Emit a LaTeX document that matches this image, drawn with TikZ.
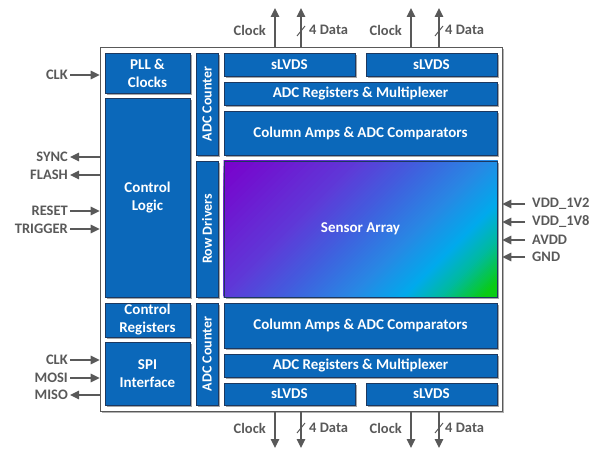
\documentclass[tikz,border=0pt]{standalone}
\usepackage{fontspec}
\setmainfont{Carlito}
\usetikzlibrary{shadows,arrows.meta}

\definecolor{blkblue}{RGB}{11,104,186}
\definecolor{blkedge}{RGB}{28,56,96}
\definecolor{pingrey}{RGB}{89,89,89}
% sensor array colours, purple corner to green corner
\definecolor{sa0}{RGB}{122,0,204}
\definecolor{sa1}{RGB}{94,58,216}
\definecolor{sa2}{RGB}{64,96,222}
\definecolor{sa3}{RGB}{40,136,228}
\definecolor{sa4}{RGB}{0,170,236}
\definecolor{sa5}{RGB}{0,186,160}
\definecolor{sa6}{RGB}{10,204,20}

\def\blkfont{\bfseries\fontsize{15}{18}\selectfont}
\def\pinfont{\bfseries\fontsize{14.5}{17}\selectfont}
% centre of the sensor array
\def\cx{360.5}
\def\cy{229}

\tikzset{
    blkbox/.style={draw=blkedge, fill=blkblue, line width=.8pt, text=white,
        font=\blkfont, align=center, inner sep=0pt,
        drop shadow={shadow xshift=1.6pt, shadow yshift=-1.6pt, fill=black, opacity=.35}},
    stripbox/.style={blkbox, rotate=90, minimum height=22pt,
        font=\bfseries\fontsize{14}{17}\selectfont},
    pinlbl/.style={text=pingrey, font=\pinfont, inner sep=2pt},
    sig/.style={draw=pingrey, line width=1.6pt, -{Triangle[length=9pt,width=8.5pt]}},
    buslash/.style={draw=pingrey, line width=1pt},
}

\begin{document}
\begin{tikzpicture}[x=1pt, y=-1pt]
    \useasboundingbox (0,0) rectangle (610,449);

    % die outline
    \node[draw=black!65, fill=white, line width=.8pt, inner sep=0pt,
        minimum width=402pt, minimum height=364pt,
        drop shadow={shadow xshift=2pt, shadow yshift=-2pt, fill=black, opacity=.3}]
        (chip) at (301,229) {};

    % left column
    \node[blkbox, minimum width=85pt, minimum height=40pt] (pll) at (147.5,73) {PLL \&\\Clocks};
    \node[blkbox, minimum width=85pt, minimum height=199pt] (ctrl) at (147.5,197.5) {Control\\Logic};
    \node[blkbox, minimum width=85pt, minimum height=34pt] (regs) at (147.5,320) {Control\\Registers};
    \node[blkbox, minimum width=85pt, minimum height=63pt] (spi) at (147.5,373.5) {SPI\\Interface};

    % vertical strips
    \node[stripbox, minimum width=102pt] (cntA) at (207,104) {ADC Counter};
    \node[stripbox, minimum width=136pt] (rows) at (207,229) {Row Drivers};
    \node[stripbox, minimum width=102pt] (cntB) at (207,354) {ADC Counter};

    % readout chain, top half
    \node[blkbox, minimum width=131pt, minimum height=23pt] (lvdsA) at (289.5,64.5) {sLVDS};
    \node[blkbox, minimum width=131pt, minimum height=23pt] (lvdsB) at (431.5,64.5) {sLVDS};
    \node[blkbox, minimum width=273pt, minimum height=23pt] (muxA) at (360.5,93.5) {ADC Registers \& Multiplexer};
    \node[blkbox, minimum width=273pt, minimum height=44pt] (colA) at (360.5,133) {Column Amps \& ADC Comparators};

    % sensor array: box, diagonal colour ramp band by band, then outline and title
    \node[blkbox, minimum width=273pt, minimum height=136pt] (arraybox) at (\cx,\cy) {};
    \begin{scope}
        \clip (arraybox.north west) rectangle (arraybox.south east);
        \foreach \ca/\cb/\ta/\tb in {sa0/sa1/-146/-50, sa1/sa2/-50/-5, sa2/sa3/-5/40,
                sa3/sa4/40/78, sa4/sa5/78/104, sa5/sa6/104/134}
            \foreach \k in {0,...,19}{
                \pgfmathsetmacro\tk{\ta+(\tb-\ta)*\k/20}
                \pgfmathsetmacro\te{\tb+.6}
                \pgfmathtruncatemacro\pct{5*\k}
                \fill[\cb!\pct!\ca]
                    ({\cx+.7071*(\tk)-113},{\cy+.7071*(\tk)+113}) --
                    ({\cx+.7071*(\te)-113},{\cy+.7071*(\te)+113}) --
                    ({\cx+.7071*(\te)+113},{\cy+.7071*(\te)-113}) --
                    ({\cx+.7071*(\tk)+113},{\cy+.7071*(\tk)-113}) -- cycle;
            }
        % last band runs out to the green corner
        \fill[sa6] ({\cx+.7071*134-113},{\cy+.7071*134+113}) --
            ({\cx+.7071*200-113},{\cy+.7071*200+113}) --
            ({\cx+.7071*200+113},{\cy+.7071*200-113}) --
            ({\cx+.7071*134+113},{\cy+.7071*134-113}) -- cycle;
    \end{scope}
    \node[draw=blkedge, line width=.8pt, text=white, font=\blkfont, inner sep=0pt,
        minimum width=273pt, minimum height=136pt] (array) at (arraybox.center) {Sensor Array};

    % readout chain, bottom half
    \node[blkbox, minimum width=273pt, minimum height=45pt] (colB) at (360.5,325.5) {Column Amps \& ADC Comparators};
    \node[blkbox, minimum width=273pt, minimum height=23pt] (muxB) at (360.5,365.5) {ADC Registers \& Multiplexer};
    \node[blkbox, minimum width=131pt, minimum height=22pt] (lvdsC) at (289.5,394) {sLVDS};
    \node[blkbox, minimum width=131pt, minimum height=22pt] (lvdsD) at (431.5,394) {sLVDS};

    % left pins
    \node[pinlbl, anchor=east] (clkin) at (70,75) {CLK};
    \node[pinlbl, anchor=east] (sync) at (70,157) {SYNC};
    \node[pinlbl, anchor=east] (flash) at (70,175) {FLASH};
    \node[pinlbl, anchor=east] (reset) at (70,211) {RESET};
    \node[pinlbl, anchor=east] (trig) at (70,229) {TRIGGER};
    \node[pinlbl, anchor=east] (sclk) at (70,360) {CLK};
    \node[pinlbl, anchor=east] (mosi) at (70,378) {MOSI};
    \node[pinlbl, anchor=east] (miso) at (70,395) {MISO};
    \draw[sig] (clkin.east) -- (clkin.east -| chip.west);
    \draw[sig] (sync.east -| chip.west) -- (sync.east);
    \draw[sig] (flash.east -| chip.west) -- (flash.east);
    \draw[sig] (reset.east) -- (reset.east -| chip.west);
    \draw[sig] (trig.east) -- (trig.east -| chip.west);
    \draw[sig] (sclk.east) -- (sclk.east -| chip.west);
    \draw[sig] (mosi.east) -- (mosi.east -| chip.west);
    \draw[sig] (miso.east -| chip.west) -- (miso.east);

    % supply pins
    \node[pinlbl, anchor=west, inner xsep=7pt] (vddA) at (525,204) {VDD\_1V2};
    \node[pinlbl, anchor=west, inner xsep=7pt] (vddB) at (525,222) {VDD\_1V8};
    \node[pinlbl, anchor=west, inner xsep=7pt] (avdd) at (525,240) {AVDD};
    \node[pinlbl, anchor=west, inner xsep=7pt] (gnd) at (525,257) {GND};
    \foreach \p in {vddA,vddB,avdd,gnd}
        \draw[sig] (\p.west) -- (\p.west -| chip.east);

    % serial outputs
    \coordinate (clkA) at (275,8);
    \coordinate (datA) at (301,8);
    \coordinate (clkB) at (411,8);
    \coordinate (datB) at (439,8);
    \coordinate (clkC) at (275,448);
    \coordinate (datC) at (301,448);
    \coordinate (clkD) at (411,448);
    \coordinate (datD) at (439,448);
    \foreach \c in {clkA,datA,clkB,datB}
        \draw[sig] (\c |- chip.north) -- (\c);
    \foreach \c in {clkC,datC,clkD,datD}
        \draw[sig] (\c |- chip.south) -- (\c);
    \foreach \c in {datA,datB}
        \draw[buslash] ([shift={(-4,28)}]\c) -- ([shift={(4,18)}]\c);
    \foreach \c in {datC,datD}
        \draw[buslash] ([shift={(-4,-15)}]\c) -- ([shift={(4,-25)}]\c);

    \node[pinlbl, anchor=east] (clkAl) at (268,30) {Clock};
    \node[pinlbl, anchor=west] (datAl) at (307,30) {4 Data};
    \node[pinlbl, anchor=east] (clkBl) at (404,30) {Clock};
    \node[pinlbl, anchor=west] (datBl) at (443,30) {4 Data};
    \node[pinlbl, anchor=east] (clkCl) at (268,428) {Clock};
    \node[pinlbl, anchor=west] (datCl) at (307,428) {4 Data};
    \node[pinlbl, anchor=east] (clkDl) at (404,428) {Clock};
    \node[pinlbl, anchor=west] (datDl) at (443,428) {4 Data};
\end{tikzpicture}
\end{document}
